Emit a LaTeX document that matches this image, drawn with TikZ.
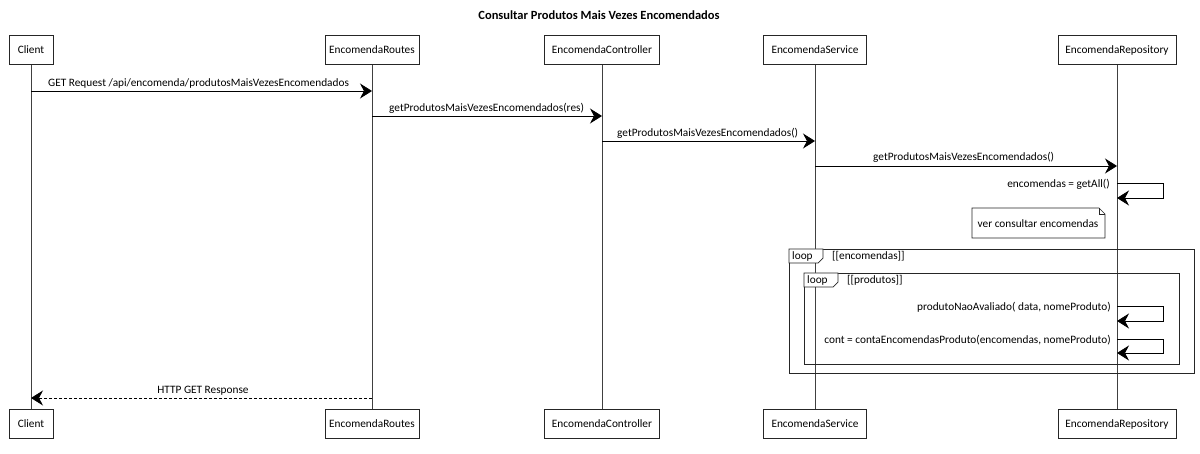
\documentclass[tikz,border=0pt]{standalone}
\usepackage{fontspec}
\setmainfont{Carlito}
\usetikzlibrary{arrows.meta,calc}
\begin{document}
\begin{tikzpicture}[x=1pt,y=-1pt,
  font=\fontsize{11.3}{13}\selectfont,
  part/.style={draw=black!85, line width=0.6pt, fill=white, minimum height=29pt, inner sep=2pt},
  life/.style={draw=black!75, line width=0.5pt},
  msg/.style={draw=black, line width=0.7pt, -{Stealth[length=12pt,width=15pt,inset=4pt]}},
  ret/.style={msg, dash pattern=on 3pt off 2pt},
  lab/.style={inner sep=0pt},
  frame/.style={draw=black!85, line width=0.7pt},
  notebox/.style={draw=black!85, line width=0.6pt, fill=white}]
\useasboundingbox (0,0) rectangle (1200,454);

\node[lab, font=\fontsize{12.5}{14}\selectfont\bfseries] (title) at (599,15) {Consultar Produtos Mais Vezes Encomendados};

% participants
\node[part, minimum width=44pt] (cT) at (31,50) {Client};
\node[part, minimum width=94pt] (rT) at (372,50) {EncomendaRoutes};
\node[part, minimum width=115pt] (kT) at (602,50) {EncomendaController};
\node[part, minimum width=103pt] (sT) at (815,50) {EncomendaService};
\node[part, minimum width=118pt] (pT) at (1117,50) {EncomendaRepository};

\node[part, minimum width=44pt] (cB) at (31,424) {Client};
\node[part, minimum width=94pt] (rB) at (372,424) {EncomendaRoutes};
\node[part, minimum width=115pt] (kB) at (602,424) {EncomendaController};
\node[part, minimum width=103pt] (sB) at (815,424) {EncomendaService};
\node[part, minimum width=118pt] (pB) at (1117,424) {EncomendaRepository};

% lifelines
\draw[life] (cT) -- (cB);
\draw[life] (rT) -- (rB);
\draw[life] (kT) -- (kB);
\draw[life] (sT) -- (sB);
\draw[life] (pT) -- (pB);

% loop frames
\draw[frame] (789,249) rectangle (1194,373);
\draw[frame, fill=white] (789,249) -- (823,249) -- (823,258) -- (818,263) -- (789,263) -- cycle;
\node[lab, anchor=west] (t1) at (792,256) {loop};
\node[lab, anchor=west] (g1) at (832,256) {[[encomendas]]};

\draw[frame] (804,273) rectangle (1179,364);
\draw[frame, fill=white] (804,273) -- (838,273) -- (838,282) -- (833,287) -- (804,287) -- cycle;
\node[lab, anchor=west] (t2) at (807,280) {loop};
\node[lab, anchor=west] (g2) at (847,280) {[[produtos]]};

% message anchor points
\coordinate (m1a) at (cT |- 0,91);   \coordinate (m1b) at (rT |- 0,91);
\coordinate (m2a) at (rT |- 0,116);  \coordinate (m2b) at (kT |- 0,116);
\coordinate (m3a) at (kT |- 0,141);  \coordinate (m3b) at (sT |- 0,141);
\coordinate (m4a) at (sT |- 0,166);  \coordinate (m4b) at (pT |- 0,166);
\coordinate (s1a) at (pT |- 0,183);  \coordinate (s1b) at (pT |- 0,198);
\coordinate (s2a) at (pT |- 0,306);  \coordinate (s2b) at (pT |- 0,321);
\coordinate (s3a) at (pT |- 0,339);  \coordinate (s3b) at (pT |- 0,353);
\coordinate (r1a) at (rT |- 0,398);  \coordinate (r1b) at (cT |- 0,398);

% messages
\draw[msg] (m1a) -- (m1b);
\node[lab, anchor=base west] (l1) at (48,87) {GET Request /api/encomenda/produtosMaisVezesEncomendados};
\draw[msg] (m2a) -- (m2b);
\node[lab, anchor=base west] (l2) at (389,112) {getProdutosMaisVezesEncomendados(res)};
\draw[msg] (m3a) -- (m3b);
\node[lab, anchor=base west] (l3) at (617,137) {getProdutosMaisVezesEncomendados()};
\draw[msg] (m4a) -- (m4b);
\node[lab, anchor=base west] (l4) at (873,161) {getProdutosMaisVezesEncomendados()};

\draw[msg] (s1a) -- ++(46,0) -- ++(0,15) -- (s1b);
\node[lab, anchor=base east] (ls1) at (1110,188) {encomendas = getAll()};

% note
\draw[notebox] (972,208) -- (1099,208) -- (1105,214) -- (1105,238) -- (972,238) -- cycle;
\draw[notebox, fill=none] (1099,208) -- (1099,214) -- (1105,214);
\node[lab] (note) at (1038,224) {ver consultar encomendas};

\draw[msg] (s2a) -- ++(46,0) -- ++(0,15) -- (s2b);
\node[lab, anchor=base east] (ls2) at (1111,311) {produtoNaoAvaliado( data, nomeProduto)};
\draw[msg] (s3a) -- ++(46,0) -- ++(0,14) -- (s3b);
\node[lab, anchor=base east] (ls3) at (1111,344) {cont = contaEncomendasProduto(encomendas, nomeProduto)};

\draw[ret] (r1a) -- (r1b);
\node[lab] (lr) at (203,391) {HTTP GET Response};
\end{tikzpicture}
\end{document}
